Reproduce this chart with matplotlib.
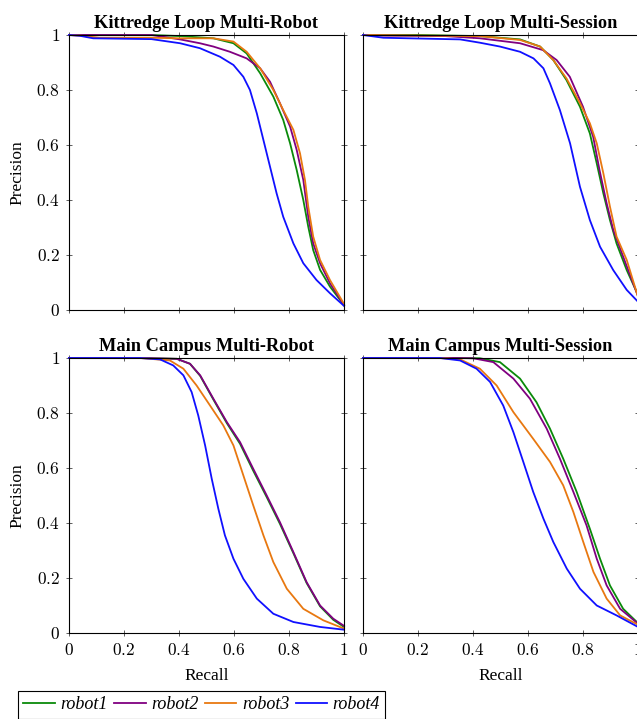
import matplotlib
matplotlib.use("Agg")
import matplotlib.pyplot as plt
from matplotlib.ticker import FuncFormatter
from matplotlib.lines import Line2D

plt.rcParams['font.family'] = ['Liberation Serif', 'DejaVu Serif']
plt.rcParams['mathtext.fontset'] = 'cm'

series_names = ['robot1', 'robot2', 'robot3', 'robot4']
colors = ['#0a8a0a', '#800080', '#e87810', '#1010ff']
titles = ['Kittredge Loop Multi-Robot', 'Kittredge Loop Multi-Session',
          'Main Campus Multi-Robot', 'Main Campus Multi-Session']
tick_values = [0, 0.2, 0.4, 0.6, 0.8, 1]

# ---- Kittredge Loop Multi-Robot ----
klmr_r1_x = [0, 0.1, 0.3, 0.404, 0.525, 0.598, 0.646, 0.695, 0.743, 0.779, 0.804, 0.828, 0.852, 0.87, 0.888, 0.913, 0.949, 1.0]
klmr_r1_y = [1, 1, 1, 0.996, 0.988, 0.97, 0.933, 0.861, 0.776, 0.691, 0.606, 0.509, 0.4, 0.303, 0.218, 0.146, 0.085, 0.018]
klmr_r2_x = [0, 0.1, 0.3, 0.404, 0.476, 0.525, 0.585, 0.646, 0.695, 0.731, 0.767, 0.804, 0.828, 0.852, 0.87, 0.888, 0.913, 0.949, 1.0]
klmr_r2_y = [1, 1, 1, 0.984, 0.97, 0.958, 0.939, 0.915, 0.879, 0.83, 0.752, 0.667, 0.582, 0.473, 0.339, 0.242, 0.17, 0.097, 0.018]
klmr_r3_x = [0, 0.05, 0.11, 0.3, 0.404, 0.525, 0.598, 0.646, 0.695, 0.743, 0.779, 0.816, 0.84, 0.858, 0.87, 0.888, 0.913, 0.949, 1.0]
klmr_r3_y = [1, 0.997, 0.99, 0.99, 0.988, 0.988, 0.976, 0.939, 0.879, 0.8, 0.727, 0.655, 0.57, 0.473, 0.376, 0.267, 0.182, 0.109, 0.022]
klmr_r4_x = [0, 0.04, 0.088, 0.3, 0.404, 0.476, 0.549, 0.598, 0.634, 0.658, 0.683, 0.707, 0.731, 0.755, 0.779, 0.816, 0.852, 0.9, 0.949, 1.0]
klmr_r4_y = [1, 0.997, 0.988, 0.985, 0.97, 0.952, 0.921, 0.891, 0.848, 0.8, 0.715, 0.618, 0.521, 0.424, 0.339, 0.242, 0.17, 0.109, 0.061, 0.015]

# ---- Kittredge Loop Multi-Session ----
klms_r1_x = [0, 0.2, 0.425, 0.571, 0.644, 0.692, 0.74, 0.789, 0.825, 0.85, 0.874, 0.898, 0.922, 0.959, 1.0]
klms_r1_y = [1, 1, 0.996, 0.984, 0.958, 0.909, 0.836, 0.739, 0.642, 0.533, 0.424, 0.327, 0.242, 0.145, 0.055]
klms_r2_x = [0, 0.074, 0.3, 0.425, 0.571, 0.655, 0.704, 0.752, 0.8, 0.837, 0.86, 0.886, 0.91, 0.946, 1.0]
klms_r2_y = [1, 0.998, 0.996, 0.988, 0.97, 0.945, 0.909, 0.848, 0.739, 0.63, 0.509, 0.388, 0.291, 0.194, 0.05]
klms_r3_x = [0, 0.2, 0.425, 0.571, 0.644, 0.692, 0.74, 0.789, 0.825, 0.85, 0.874, 0.898, 0.922, 0.959, 1.0]
klms_r3_y = [1, 0.998, 0.996, 0.982, 0.958, 0.909, 0.842, 0.752, 0.679, 0.606, 0.497, 0.376, 0.267, 0.182, 0.048]
klms_r4_x = [0, 0.074, 0.353, 0.425, 0.498, 0.571, 0.62, 0.656, 0.68, 0.716, 0.753, 0.789, 0.825, 0.862, 0.91, 0.959, 1.0]
klms_r4_y = [1, 0.99, 0.984, 0.972, 0.958, 0.939, 0.915, 0.879, 0.824, 0.727, 0.606, 0.448, 0.327, 0.23, 0.145, 0.073, 0.03]

# ---- Main Campus Multi-Robot ----
mcmr_r1_x = [0, 0.258, 0.392, 0.44, 0.477, 0.525, 0.574, 0.622, 0.67, 0.719, 0.767, 0.816, 0.864, 0.913, 0.961, 1.0]
mcmr_r1_y = [1, 1, 0.997, 0.979, 0.935, 0.849, 0.763, 0.688, 0.59, 0.494, 0.397, 0.29, 0.182, 0.097, 0.048, 0.022]
mcmr_r2_x = [0, 0.258, 0.392, 0.44, 0.477, 0.525, 0.574, 0.622, 0.67, 0.719, 0.767, 0.816, 0.864, 0.913, 0.961, 1.0]
mcmr_r2_y = [1, 1, 0.997, 0.979, 0.937, 0.852, 0.767, 0.694, 0.597, 0.5, 0.403, 0.294, 0.185, 0.1, 0.052, 0.026]
mcmr_r3_x = [0, 0.258, 0.367, 0.416, 0.464, 0.513, 0.561, 0.598, 0.634, 0.67, 0.707, 0.743, 0.792, 0.852, 0.925, 1.0]
mcmr_r3_y = [1, 1, 0.991, 0.961, 0.9, 0.827, 0.755, 0.682, 0.573, 0.464, 0.355, 0.258, 0.161, 0.088, 0.046, 0.016]
mcmr_r4_x = [0, 0.258, 0.331, 0.379, 0.416, 0.446, 0.47, 0.495, 0.519, 0.543, 0.567, 0.598, 0.634, 0.683, 0.743, 0.816, 0.913, 1.0]
mcmr_r4_y = [1, 1, 0.995, 0.973, 0.937, 0.876, 0.791, 0.682, 0.561, 0.452, 0.355, 0.27, 0.197, 0.125, 0.07, 0.04, 0.022, 0.012]

# ---- Main Campus Multi-Session ----
mcms_r1_x = [0, 0.35, 0.425, 0.498, 0.571, 0.631, 0.68, 0.728, 0.777, 0.825, 0.862, 0.898, 0.946, 1.0]
mcms_r1_y = [1, 1, 0.999, 0.985, 0.925, 0.839, 0.743, 0.634, 0.513, 0.379, 0.27, 0.173, 0.088, 0.036]
mcms_r2_x = [0, 0.33, 0.401, 0.474, 0.547, 0.607, 0.668, 0.716, 0.765, 0.813, 0.85, 0.886, 0.935, 1.0]
mcms_r2_y = [1, 1, 0.999, 0.985, 0.925, 0.852, 0.743, 0.634, 0.513, 0.391, 0.27, 0.173, 0.088, 0.034]
mcms_r3_x = [0, 0.28, 0.353, 0.425, 0.486, 0.547, 0.619, 0.68, 0.728, 0.765, 0.801, 0.838, 0.886, 0.935, 1.0]
mcms_r3_y = [1, 1, 0.995, 0.961, 0.9, 0.803, 0.706, 0.622, 0.537, 0.44, 0.331, 0.222, 0.125, 0.064, 0.03]
mcms_r4_x = [0, 0.28, 0.353, 0.413, 0.462, 0.51, 0.547, 0.583, 0.619, 0.656, 0.692, 0.741, 0.789, 0.85, 0.922, 1.0]
mcms_r4_y = [1, 1, 0.991, 0.961, 0.913, 0.827, 0.73, 0.622, 0.513, 0.416, 0.331, 0.234, 0.161, 0.1, 0.064, 0.022]

panels = [
    [(klmr_r1_x, klmr_r1_y), (klmr_r2_x, klmr_r2_y), (klmr_r3_x, klmr_r3_y), (klmr_r4_x, klmr_r4_y)],
    [(klms_r1_x, klms_r1_y), (klms_r2_x, klms_r2_y), (klms_r3_x, klms_r3_y), (klms_r4_x, klms_r4_y)],
    [(mcmr_r1_x, mcmr_r1_y), (mcmr_r2_x, mcmr_r2_y), (mcmr_r3_x, mcmr_r3_y), (mcmr_r4_x, mcmr_r4_y)],
    [(mcms_r1_x, mcms_r1_y), (mcms_r2_x, mcms_r2_y), (mcms_r3_x, mcms_r3_y), (mcms_r4_x, mcms_r4_y)],
]

W, H = 637, 719
fig = plt.figure(figsize=(W / 100, H / 100), dpi=100)

def frac(x0, y0, x1, y1):
    return [x0 / W, 1 - y1 / H, (x1 - x0) / W, (y1 - y0) / H]

rects = [frac(69, 35, 344, 310), frac(363, 35, 638, 310),
         frac(69, 358, 344, 633), frac(363, 358, 638, 633)]

fmt = FuncFormatter(lambda v, p: '$%g$' % round(v, 2))

for i, (rect, data, title) in enumerate(zip(rects, panels, titles)):
    ax = fig.add_axes(rect)
    for (xs, ys), c in zip(data, colors):
        ax.plot(xs, ys, color=c, lw=1.3, solid_joinstyle='round', clip_on=False)
    ax.set_xlim(0, 1)
    ax.set_ylim(0, 1)
    ax.set_xticks(tick_values)
    ax.set_yticks(tick_values)
    ax.xaxis.set_major_formatter(fmt)
    ax.yaxis.set_major_formatter(fmt)
    ax.tick_params(direction='inout', length=5, width=0.6, color='#444444',
                   top=True, right=True, labelsize=12.5)
    ax.tick_params(axis='x', pad=5)
    ax.tick_params(axis='y', pad=4)
    for s in ax.spines.values():
        s.set_linewidth(0.8)
    row, col = divmod(i, 2)
    if row == 0:
        ax.tick_params(labelbottom=False)
    else:
        ax.set_xlabel('Recall', fontsize=12.5, labelpad=6)
    if col == 1:
        ax.tick_params(labelleft=False)
    else:
        ax.set_ylabel('Precision', fontsize=12.5, labelpad=8)
    ax.set_title(title, fontsize=13.2, fontweight='bold', pad=5)

handles = [Line2D([], [], color=c, lw=1.3) for c in colors]
leg = fig.legend(handles, series_names, loc='upper left',
                 bbox_to_anchor=(18 / W, 1 - 691 / H), ncol=4,
                 prop={'family': 'Liberation Serif', 'style': 'italic', 'size': 13},
                 frameon=True, fancybox=False, edgecolor='black', framealpha=1,
                 handlelength=1.75, handletextpad=0.3, columnspacing=0.35,
                 borderpad=0.3, borderaxespad=0)
leg.get_frame().set_linewidth(0.8)

fig.savefig('out.png', dpi=100)
